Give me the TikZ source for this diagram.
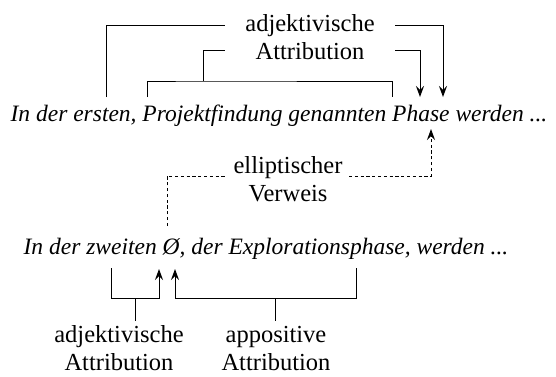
\documentclass[tikz,border=0pt]{standalone}
\usepackage{fontspec}
\setmainfont{Liberation Serif}
\usetikzlibrary{arrows.meta}
\begin{document}
\begin{tikzpicture}[x=1pt,y=-1pt,
  link/.style={line width=1pt, line join=miter},
  arr/.style={link,-{Stealth[length=11pt,width=8pt,inset=4pt]}},
  dashlink/.style={arr,dash pattern=on 3.2pt off 2.6pt},
  sent/.style={font=\fontsize{23.5}{27}\selectfont\itshape, inner sep=0pt},
  lbl/.style={font=\fontsize{24.5}{28}\selectfont, align=center, inner sep=0pt}]
\useasboundingbox (0,0) rectangle (556,376);

% the two sentences
\node[sent] (s1) at (279,116) {In der ersten, Projektfindung genannten Phase werden ...};
\node[sent] (s2) at (266,249) {In der zweiten \O, der Explorationsphase, werden ...};

% labels
\node[lbl] (lab1) at (310,37) {adjektivische\\Attribution};
\node[lbl] (lab2) at (288,179) {elliptischer\\Verweis};
\node[lbl] (lab3) at (119,348) {adjektivische\\Attribution};
\node[lbl] (lab4) at (276,348) {appositive\\Attribution};

% attachment points above the first sentence
\coordinate (ersten) at (106,97);
\coordinate (projL) at (147,97);
\coordinate (projR) at (392,97);
\coordinate (phaseA) at (420,97);
\coordinate (phaseB) at (443,97);
\coordinate (phaseC) at (431,129);
% attachment points below the second sentence
\coordinate (leer) at (167,226);
\coordinate (zweiten) at (111,268);
\coordinate (nullA) at (159,269);
\coordinate (nullB) at (175,269);
\coordinate (explo) at (356,268);
% line ends beside the labels
\coordinate (l1a) at (225,25);
\coordinate (l1b) at (395,25);
\coordinate (l1c) at (225,50);
\coordinate (l1d) at (395,50);
\coordinate (l2a) at (227,176);
\coordinate (l2b) at (349,176);
% label stems
\coordinate (st3) at (135,321);
\coordinate (st4) at (275,321);

% upper relations
\draw[link] (ersten) |- (l1a);
\draw[arr] (l1b) -| (phaseB);
\draw[link] (projL) |- (203,81) -- (392,81) -- (projR);
\draw[link] (203,81) |- (l1c);
\draw[arr] (l1d) -| (phaseA);

% elliptic reference
\draw[dash pattern=on 3.2pt off 2.6pt, line width=1pt] (leer) |- (l2a);
\draw[dashlink] (l2b) -| (phaseC);

% lower relations
\draw[arr] (zweiten) |- (135,298) -| (nullA);
\draw[link] (135,298) -- (st3);
\draw[arr] (explo) |- (275,298) -| (nullB);
\draw[link] (275,298) -- (st4);
\end{tikzpicture}
\end{document}
